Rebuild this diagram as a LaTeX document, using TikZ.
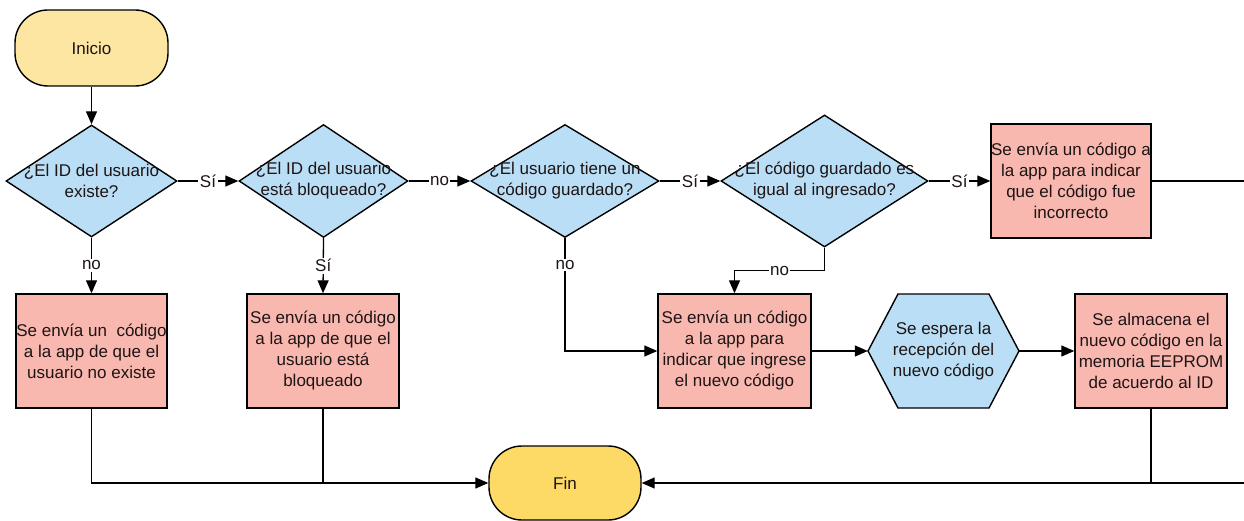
\documentclass[tikz,border=0pt]{standalone}
\usepackage{fontspec}
\setmainfont{Liberation Sans}
\usetikzlibrary{shapes.geometric,arrows.meta,calc}
\definecolor{pinkbox}{HTML}{F8B8B0}
\definecolor{bluebox}{HTML}{B9DEF5}
\definecolor{yelA}{HTML}{FCE6A2}
\definecolor{yelB}{HTML}{FDD965}
\definecolor{txtc}{HTML}{1E1414}
\begin{document}
\begin{tikzpicture}[x=1pt,y=-1pt,
  font=\fontsize{17}{21}\selectfont,
  every node/.style={text=txtc, align=center},
  term/.style={draw=black, line width=1.4pt, rounded corners=33pt, inner sep=0pt, minimum width=153pt, minimum height=76pt},
  dia/.style={diamond, draw=black, line width=1.4pt, fill=bluebox, inner sep=0pt},
  procbox/.style={rectangle, draw=black, line width=1.4pt, fill=pinkbox, inner sep=0pt, minimum width=152pt, minimum height=114pt},
  txt/.style={inner sep=0pt},
  conn/.style={line width=1.3pt, draw=black},
  arr/.style={conn, -{Triangle[length=13pt,width=11pt]}},
  lbl/.style={fill=white, inner sep=1.5pt}]
\useasboundingbox (0,0) rectangle (1244,521);

% terminals
\node[term, fill=yelA] (ini) at (91.5,48) {Inicio};
\node[term, fill=yelB, minimum width=152pt, minimum height=74pt] (fin) at (565,483) {Fin};

% decisions
\node[dia, minimum width=171pt, minimum height=112pt] (d1) at (91.5,181) {};
\node[txt] (t1) at (d1) {¿El ID del usuario\\existe?};
\node[dia, minimum width=169pt, minimum height=113pt] (d2) at (323.5,181) {};
\node[txt] (t2) at (d2) {¿El ID del usuario\\está bloqueado?};
\node[dia, minimum width=188pt, minimum height=113pt] (d3) at (565,181) {};
\node[txt] (t3) at (d3) {¿El usuario tiene un\\código guardado?};
\node[dia, minimum width=207pt, minimum height=132pt] (d4) at (824.5,181) {};
\node[txt] (t4) at (d4) {¿El código guardado es\\igual al ingresado?};

% processes
\node[procbox, minimum width=160pt] (b1) at (1071,181) {Se envía un código a\\la app para indicar\\que el código fue\\incorrecto};
\node[procbox, minimum width=151pt] (bA) at (91.5,351) {Se envía un \ código\\a la app de que el\\usuario no existe};
\node[procbox] (bB) at (323,351) {Se envía un código\\a la app de que el\\usuario está\\bloqueado};
\node[procbox, minimum width=153pt] (bC) at (734.5,351) {Se envía un código\\a la app para\\indicar que ingrese\\el nuevo código};
\node[procbox] (bE) at (1151,351) {Se almacena el\\nuevo código en la\\memoria EEPROM\\de acuerdo al ID};

% hexagon
\coordinate (hc) at (943.5,351);
\draw[line width=1.4pt, fill=bluebox]
  ($(hc)+(-75.5,0)$) -- ($(hc)+(-45.5,-57)$) -- ($(hc)+(45.5,-57)$) --
  ($(hc)+(75.5,0)$) -- ($(hc)+(45.5,57)$) -- ($(hc)+(-45.5,57)$) -- cycle;
\node[txt, minimum width=151pt, minimum height=114pt] (hex) at (hc) {Se espera la\\recepción del\\nuevo código};

% right edge (outside the page)
\coordinate (edge) at (1250,0);

% connectors
\draw[arr] (ini) -- (d1);
\draw[arr] (d1.east) -- node[lbl] {Sí} (d2.west);
\draw[arr] (d2.east) -- node[lbl] {no} (d3.west);
\draw[arr] (d3.east) -- node[lbl] {Sí} (d4.west);
\draw[arr] (d4.east) -- node[lbl] {Sí} (b1.west);
\draw[arr] (d1.south) -- node[lbl] {no} (bA.north);
\draw[arr] (d2.south) -- node[lbl] {Sí} (bB.north);
\draw[arr] (d3.south) |- node[lbl, pos=0.12] {no} (bC.west);
\draw[arr] (d4.south) -- ++(0,23) -| node[lbl, pos=0.25] {no} (bC.north);
\draw[arr] (bC.east) -- (hex.west);
\draw[arr] (hex.east) -- (bE.west);
\draw[arr] (bA.south) |- (fin.west);
\draw[conn] (bB.south) -- (bB.south |- fin.west);
\draw[arr] (b1.east) -- (b1.east -| edge) |- (fin.east);
\draw[conn] (bE.south) -- (bE.south |- fin.east);
\end{tikzpicture}
\end{document}
